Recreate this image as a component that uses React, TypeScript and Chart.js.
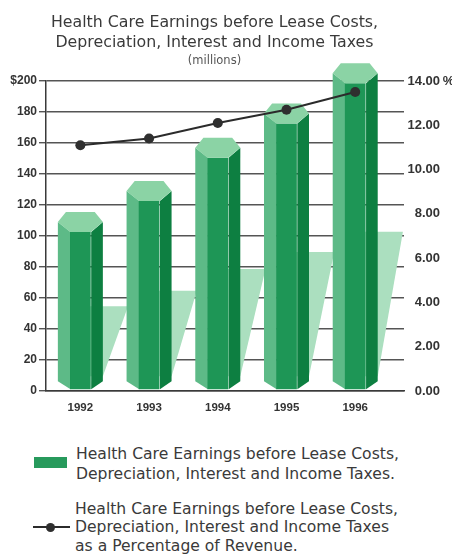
import React, { useEffect, useRef } from 'react';
import { Chart, registerables } from 'chart.js';

Chart.register(...registerables);

// Fiscal years shown on the x axis
const years = [1992, 1993, 1994, 1995, 1996];
// Earnings before lease costs, depreciation, interest and income taxes ($ millions)
const earningsMillions = [109, 129, 157, 179, 205];
// The same earnings as a percentage of revenue
const earningsPctOfRevenue = [11.1, 11.4, 12.1, 12.7, 13.5];

const titleLines = [
  'Health Care Earnings before Lease Costs,',
  'Depreciation, Interest and Income Taxes',
];
const subtitleText = '(millions)';
const barLegendLines = [
  'Health Care Earnings before Lease Costs,',
  'Depreciation, Interest and Income Taxes.',
];
const lineLegendLines = [
  'Health Care Earnings before Lease Costs,',
  'Depreciation, Interest and Income Taxes',
  'as a Percentage of Revenue.',
];

const FONT = '"Liberation Sans", Arial, sans-serif';
const TEXT_FONT = '"DejaVu Sans", "Liberation Sans", sans-serif';
const INK = '#333333';
const FIGURE_SPACE = '\u2007';
const THIN_SPACE = '\u2009';
const GREEN = {
  cap: '#8bd3a5',
  left: '#5dba87',
  mid: '#1e9656',
  right: '#0d7f41',
  shadow: '#abdfbf',
  swatch: '#279a5c',
};

type Pt = [number, number];

function fillPoly(ctx: CanvasRenderingContext2D, pts: Pt[], color: string) {
  ctx.beginPath();
  ctx.moveTo(pts[0][0], pts[0][1]);
  for (let i = 1; i < pts.length; i++) ctx.lineTo(pts[i][0], pts[i][1]);
  ctx.closePath();
  ctx.fillStyle = color;
  ctx.fill();
}

// Right-hand axis labels: two decimals, digits lined up on the right, unit on the top label.
function pctTickLabel(v: number, max: number) {
  const s = Number(v).toFixed(2);
  const padded = v < 10 ? FIGURE_SPACE + s : s;
  return v === max ? padded + THIN_SPACE + '%' : padded;
}

// Draws each bar as a hexagonal column with a pale cast shadow behind it.
const hexColumnPlugin = {
  id: 'hexColumns',
  beforeDatasetsDraw(chart: any) {
    const ctx = chart.ctx as CanvasRenderingContext2D;
    const meta = chart.getDatasetMeta(0);
    ctx.save();
    meta.data.forEach((el: any) => {
      const { x, y, base, width } = el.getProps(['x', 'y', 'base', 'width'], true);
      const right = x + width / 2;
      const top = base - (base - y) * 0.5;
      const foot = base - 14;
      fillPoly(
        ctx,
        [
          [x, top],
          [right + width * 0.56, top],
          [right, foot],
          [x, foot],
        ],
        GREEN.shadow
      );
    });
    ctx.restore();
  },
  afterDatasetDraw(chart: any, args: any) {
    if (args.index !== 0) return;
    const ctx = chart.ctx as CanvasRenderingContext2D;
    const meta = chart.getDatasetMeta(0);
    const capH = 10;
    const footH = 8;
    ctx.save();
    meta.data.forEach((el: any) => {
      const { x, y, base, width: w } = el.getProps(['x', 'y', 'base', 'width'], true);
      const L = x - w / 2;
      const R = x + w / 2;
      const a = L + 0.27 * w;
      const b = R - 0.27 * w;
      const bottom = base - 1;
      fillPoly(ctx, [[L, y], [a + 0.5, y + capH], [a + 0.5, bottom], [L, bottom - footH]], GREEN.left);
      fillPoly(ctx, [[b + 0.5, y + capH], [R, y], [R, bottom - footH], [b + 0.5, bottom]], GREEN.right);
      fillPoly(ctx, [[a, y + capH], [b, y + capH], [b, bottom], [a, bottom]], GREEN.mid);
      fillPoly(
        ctx,
        [
          [L, y],
          [L + 0.18 * w, y - capH],
          [R - 0.18 * w, y - capH],
          [R, y],
          [b, y + capH],
          [a, y + capH],
        ],
        GREEN.cap
      );
    });
    ctx.restore();
  },
};

export default function App() {
  const canvasRef = useRef<HTMLCanvasElement | null>(null);

  useEffect(() => {
    const canvas = canvasRef.current;
    if (!canvas) return;
    const chart = new Chart(canvas, {
      type: 'bar',
      data: {
        datasets: [
          {
            type: 'bar',
            label: barLegendLines.join(' '),
            data: years.map((yr, i) => ({ x: yr, y: earningsMillions[i] })),
            backgroundColor: 'rgba(0,0,0,0)',
            borderWidth: 0,
            categoryPercentage: 1,
            barPercentage: 0.655,
            yAxisID: 'y',
            order: 1,
          } as any,
          {
            type: 'line',
            label: lineLegendLines.join(' '),
            data: years.map((yr, i) => ({ x: yr, y: earningsPctOfRevenue[i] })),
            borderColor: '#2b2b2b',
            borderWidth: 2,
            pointRadius: 5,
            pointBackgroundColor: '#2f2f2f',
            pointBorderColor: '#2f2f2f',
            pointBorderWidth: 0,
            tension: 0,
            yAxisID: 'y1',
            order: 0,
          } as any,
        ],
      },
      options: {
        responsive: false,
        animation: false,
        events: [],
        layout: { padding: { top: 81, left: 0, right: 0, bottom: 0 } },
        plugins: {
          legend: { display: false },
          tooltip: { enabled: false },
          title: { display: false },
        },
        scales: {
          x: {
            type: 'linear',
            position: 'bottom',
            offset: false,
            min: 1991.5,
            max: 1996.71,
            grid: { display: false, drawTicks: false, offset: false },
            border: { display: true, color: '#3a3a3a', width: 1.5 },
            ticks: {
              stepSize: 1,
              includeBounds: false,
              padding: 10,
              color: INK,
              font: { family: FONT, size: 11.5, weight: 'bold' },
              callback: (v: any) => String(v),
            },
            afterFit: (s: any) => {
              s.height = 34;
            },
          },
          y: {
            type: 'linear',
            position: 'left',
            min: 0,
            max: 200,
            grid: { color: '#555555', lineWidth: 1.4, tickLength: 7, drawTicks: true },
            border: { display: true, color: '#3a3a3a', width: 1.5 },
            ticks: {
              stepSize: 20,
              padding: 2,
              color: INK,
              font: { family: FONT, size: 12, weight: 'bold' },
              callback: (v: any) => (v === 200 ? '$200' : String(v)),
            },
            afterFit: (s: any) => {
              s.width = 46;
            },
          },
          y1: {
            type: 'linear',
            position: 'right',
            min: 0,
            max: 14,
            grid: { display: false, drawTicks: false, tickLength: 0 },
            border: { display: false },
            ticks: {
              stepSize: 2,
              padding: 3.5,
              crossAlign: 'near',
              color: INK,
              font: { family: FONT, size: 13, weight: 'bold' },
              callback: (v: any) => pctTickLabel(Number(v), 14),
            },
            afterFit: (s: any) => {
              s.width = 48;
            },
          },
        },
      } as any,
      plugins: [hexColumnPlugin],
    });
    return () => chart.destroy();
  }, []);

  return (
    <div
      style={{
        position: 'absolute',
        left: 0,
        top: 0,
        width: 452,
        height: 559,
        background: '#ffffff',
        fontFamily: TEXT_FONT,
        color: '#3a3a3a',
        overflow: 'hidden',
      }}
    >
      <canvas ref={canvasRef} width={452} height={425} style={{ position: 'absolute', left: 0, top: 0 }} />
      <div
        style={{
          position: 'absolute',
          left: 0,
          top: 12,
          width: 429,
          textAlign: 'center',
          fontSize: 15.8,
          lineHeight: '20px',
          whiteSpace: 'nowrap',
        }}
      >
        {titleLines.map((t) => (
          <div key={t}>{t}</div>
        ))}
        <div style={{ fontSize: 11.5, lineHeight: '16px', color: '#555555' }}>{subtitleText}</div>
      </div>

      <div
        style={{
          position: 'absolute',
          left: 34,
          top: 457,
          width: 33,
          height: 11,
          background: GREEN.swatch,
        }}
      />
      <div
        style={{
          position: 'absolute',
          left: 76,
          top: 443.5,
          fontSize: 15.6,
          lineHeight: '20px',
          whiteSpace: 'nowrap',
        }}
      >
        {barLegendLines.map((t) => (
          <div key={t}>{t}</div>
        ))}
      </div>

      <div style={{ position: 'absolute', left: 33, top: 526, width: 37, height: 2, background: '#2b2b2b' }} />
      <div
        style={{
          position: 'absolute',
          left: 45.5,
          top: 522.5,
          width: 9,
          height: 9,
          borderRadius: '50%',
          background: '#2f2f2f',
        }}
      />
      <div
        style={{
          position: 'absolute',
          left: 75,
          top: 499.75,
          fontSize: 15.6,
          lineHeight: '18.5px',
          whiteSpace: 'nowrap',
        }}
      >
        {lineLegendLines.map((t) => (
          <div key={t}>{t}</div>
        ))}
      </div>
    </div>
  );
}
